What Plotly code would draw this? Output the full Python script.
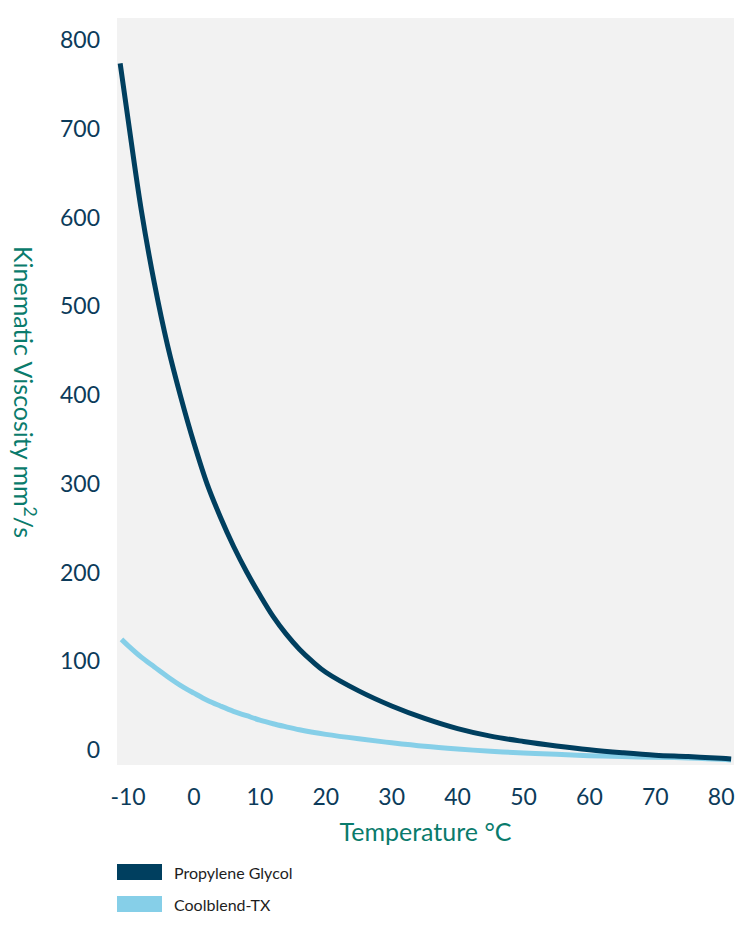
import plotly.graph_objects as go

# Temperature (°C) and kinematic viscosity (mm²/s)
pg_temp = [-11.2, -10, -8, -6, -4, -2, 0, 2, 4, 6, 8, 10, 12, 14, 16, 18, 20, 25, 30, 35, 40,
           45, 50, 55, 60, 65, 70, 75, 80, 81.5]
pg_visc = [786, 723, 621, 538, 468, 410, 358, 312, 275, 242, 213, 187, 163, 143, 126, 112, 100,
           79, 62, 48, 36.5, 28, 22, 17, 12.7, 9.3, 6.5, 5, 3, 2.2]

cb_temp = [-11, -10, -8, -6, -4, -2, 0, 2, 4, 6, 8, 10, 12, 14, 16, 18, 20, 25, 30, 35, 40,
           45, 50, 55, 60, 65, 70, 75, 80, 81.5]
cb_visc = [137, 130, 117, 106, 95, 85, 76.5, 68.5, 62, 56, 51, 46, 42, 38.5, 35.2, 32.4, 30,
           25, 20.5, 16.5, 13.5, 11, 9, 7.5, 6, 5, 4.3, 3.5, 2, 1.2]

series_names = ["Propylene Glycol", "Coolblend-TX"]
series_colors = ["#003f5f", "#86cfe8"]

x_ticks = [-10, 0, 10, 20, 30, 40, 50, 60, 70, 80]
x_tick_labels = ["-10", "0", "10", "20", "30", "40", "50", "60", "70", "80"]
y_ticks = [0, 100, 200, 300, 400, 500, 600, 700, 800]

NAVY = "#0c3b5a"
TEAL = "#0a7b6c"
FONT = "Lato"

fig = go.Figure()
fig.add_trace(go.Scatter(x=cb_temp, y=cb_visc, mode="lines", name=series_names[1],
                         line=dict(color=series_colors[1], width=5, shape="spline", smoothing=1.0),
                         showlegend=False))
fig.add_trace(go.Scatter(x=pg_temp, y=pg_visc, mode="lines", name=series_names[0],
                         line=dict(color=series_colors[0], width=5, shape="spline", smoothing=1.0),
                         showlegend=False))

# Plot area in pixels
L, R, T, B = 117, 734, 18, 765
pw, ph = R - L, B - T
def px(xp):
    return (xp - L) / pw
def py(yp):
    return (B - yp) / ph

# Manual legend (swatches + labels) below the plot
for i, (nm, col) in enumerate(zip(series_names, series_colors)):
    yc = 872 + 32 * i
    fig.add_shape(type="rect", xref="paper", yref="paper",
                  x0=px(117), x1=px(162), y0=py(yc - 8), y1=py(yc + 8),
                  fillcolor=col, line=dict(width=0))
    fig.add_annotation(xref="paper", yref="paper", x=px(172), y=py(yc), text=nm,
                       showarrow=False, xanchor="left", yanchor="middle",
                       font=dict(family=FONT, size=16, color="#1e1e1e"))

# Y axis title, reading top to bottom
fig.add_annotation(xref="paper", yref="paper", x=px(25), y=py(392),
                   text="Kinematic Viscosity mm<sup>2</sup>/s", textangle=90,
                   showarrow=False, xanchor="center", yanchor="middle",
                   font=dict(family=FONT, size=25, color=TEAL))

fig.update_layout(
    width=751, height=926,
    margin=dict(l=L, r=751 - R, t=T, b=926 - B, autoexpand=False),
    paper_bgcolor="white", plot_bgcolor="#f2f2f2",
    font=dict(family=FONT, color=NAVY),
    showlegend=False,
)
fig.update_xaxes(
    range=[-11.68, 81.94], tickmode="array", tickvals=x_ticks, ticktext=x_tick_labels,
    showgrid=False, zeroline=False, showline=False, ticks="", automargin=False,
    tickfont=dict(family=FONT, size=23, color=NAVY),
    ticklabelstandoff=16,
    title=dict(text="Temperature °C", font=dict(family=FONT, size=25, color=TEAL), standoff=14),
)
fig.update_yaxes(
    range=[-4.5, 837.2], tickmode="array", tickvals=y_ticks,
    showgrid=False, zeroline=False, showline=False, ticks="", automargin=False,
    tickfont=dict(family=FONT, size=23, color=NAVY),
    ticklabelstandoff=16, ticklabelshift=-11,
)

fig.write_html("out.html",
               config={"displayModeBar": False},
               post_script="document.body.style.margin='0';document.body.style.overflow='hidden';")
